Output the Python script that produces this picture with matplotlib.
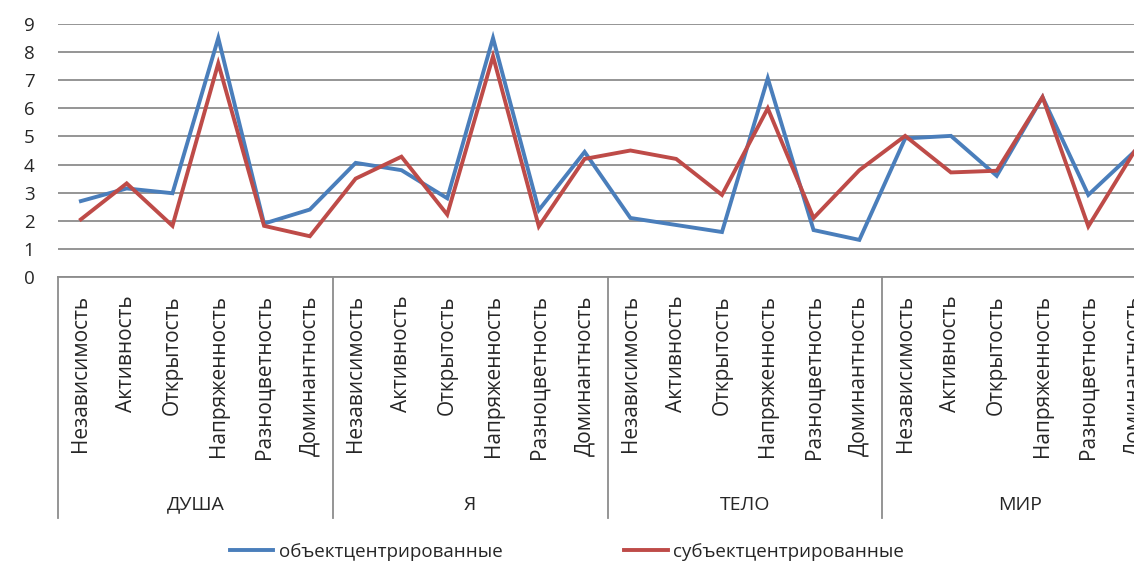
import numpy as np
import matplotlib
matplotlib.use("Agg")
import matplotlib.pyplot as plt

categories = ["Независимость", "Активность", "Открытость",
              "Напряженность", "Разноцветность", "Доминантность"]
groups = ["ДУША", "Я", "ТЕЛО", "МИР"]
obj_centered = [2.7, 3.15, 2.98, 8.5, 1.9, 2.4,
                4.06, 3.8, 2.8, 8.5, 2.38, 4.45,
                2.1, 1.85, 1.6, 7.07, 1.67, 1.32,
                4.93, 5.02, 3.6, 6.4, 2.92, 4.45]
subj_centered = [2.05, 3.33, 1.82, 7.6, 1.82, 1.45,
                 3.5, 4.28, 2.22, 7.85, 1.8, 4.2,
                 4.5, 4.2, 2.92, 6.0, 2.1, 3.8,
                 5.02, 3.72, 3.78, 6.4, 1.8, 4.45]

plt.rcParams.update({"font.family": ["Open Sans", "DejaVu Sans"], "font.size": 13})
GRID = "#8c8c8c"
TXT = "#262626"

fig = plt.figure(figsize=(11.34, 5.66), dpi=100)
W, H = 1134, 566
ax = fig.add_axes([58 / W, 1 - 277 / H, 1099 / W, (277 - 24) / H])

x = np.arange(len(obj_centered))
ax.plot(x, obj_centered, color="#4a7ebb", lw=2.8, label="объектцентрированные",
        solid_joinstyle="miter")
ax.plot(x, subj_centered, color="#be4b48", lw=2.8, label="субъектцентрированные",
        solid_joinstyle="miter")

ax.set_xlim(-0.5, len(x) - 0.5)
ax.set_ylim(0, 9)
ax.set_yticks(range(10))
ax.yaxis.grid(True, color=GRID, lw=1.3)
ax.set_axisbelow(True)
for s in ["top", "right", "left"]:
    ax.spines[s].set_visible(False)
ax.spines["bottom"].set_color(GRID)
ax.spines["bottom"].set_linewidth(1.3)
ax.tick_params(axis="y", length=0, pad=17, labelsize=13.5, labelcolor=TXT)
ax.set_xticks(x, labels=categories * len(groups), rotation=90)
ax.tick_params(axis="x", length=0, pad=13, labelsize=15, labelcolor=TXT)

# group separators and group names below the category labels
trans = ax.get_xaxis_transform()
for b in range(0, len(x) + 1, len(categories)):
    ax.plot([b - 0.5, b - 0.5], [0, -0.953], transform=trans, clip_on=False,
            color=GRID, lw=1.3)
for g, name in enumerate(groups):
    ax.text(g * len(categories) + 2.5, -0.9, name, transform=trans,
            ha="center", va="center", fontsize=14, color=TXT)

fig.legend(loc="center", bbox_to_anchor=(0.5, 1 - 552 / H), ncol=2, frameon=False,
           handlelength=2.3, handletextpad=0.3, columnspacing=6.5, fontsize=13.5,
           labelcolor=TXT)

fig.savefig("out.png", dpi=100)
